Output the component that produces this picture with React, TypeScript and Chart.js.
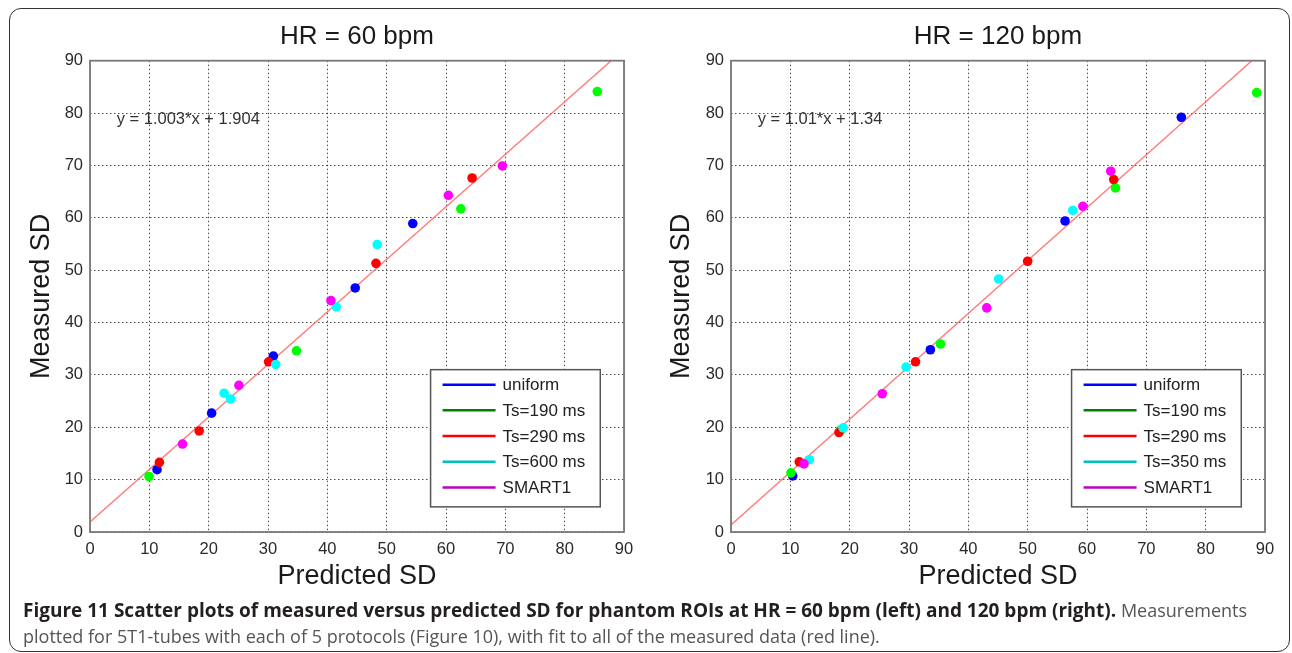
import React, { useEffect, useRef } from "react";
import { Chart, registerables } from "chart.js";

Chart.register(...registerables);

// ---------- data ----------
const axisTicks = [0, 10, 20, 30, 40, 50, 60, 70, 80, 90];

const protocols60 = ["uniform", "Ts=190 ms", "Ts=290 ms", "Ts=600 ms", "SMART1"];
const protocols120 = ["uniform", "Ts=190 ms", "Ts=290 ms", "Ts=350 ms", "SMART1"];

const markerColors = ["#0000ff", "#00ff00", "#ff0000", "#00ffff", "#ff00ff"];
const legendColors = ["#0000ff", "#008000", "#ff0000", "#00bfbf", "#bf00bf"];

// HR = 60 bpm : predicted SD (x) and measured SD (y)
const uniform60Pred = [11.3, 20.5, 30.9, 44.7, 54.4];
const uniform60Meas = [11.9, 22.7, 33.6, 46.6, 58.9];
const ts190at60Pred = [9.95, 34.8, 62.5, 85.5];
const ts190at60Meas = [10.6, 34.6, 61.7, 84.1];
const ts290at60Pred = [11.7, 18.4, 30.1, 48.2, 64.4];
const ts290at60Meas = [13.3, 19.3, 32.5, 51.3, 67.6];
const ts600at60Pred = [22.6, 23.7, 31.3, 41.5, 48.4];
const ts600at60Meas = [26.5, 25.4, 32.0, 43.0, 54.9];
const smart60Pred = [15.6, 25.1, 40.6, 60.4, 69.5];
const smart60Meas = [16.8, 28.0, 44.2, 64.3, 69.9];
const fit60Slope = 1.003;
const fit60Intercept = 1.904;

// HR = 120 bpm
const uniform120Pred = [10.4, 33.6, 56.3, 75.9];
const uniform120Meas = [10.7, 34.8, 59.4, 79.2];
const ts190at120Pred = [10.1, 18.5, 35.3, 64.8, 88.6];
const ts190at120Meas = [11.3, 19.5, 35.9, 65.7, 83.9];
const ts290at120Pred = [11.5, 18.2, 31.1, 50.0, 64.5];
const ts290at120Meas = [13.4, 19.0, 32.5, 51.7, 67.3];
const ts350at120Pred = [13.2, 18.9, 29.5, 45.1, 57.6];
const ts350at120Meas = [13.8, 19.9, 31.5, 48.3, 61.4];
const smart120Pred = [12.3, 25.5, 43.1, 59.3, 64.0];
const smart120Meas = [13.0, 26.4, 42.8, 62.2, 68.9];
const fit120Slope = 1.01;
const fit120Intercept = 1.34;

// ---------- chart ----------
const FONT = "'Liberation Sans', Arial, Helvetica, sans-serif";
const CANVAS_H = 600;

type PanelProps = {
  title: string;
  equation: string;
  slope: number;
  intercept: number;
  names: string[];
  xs: number[][];
  ys: number[][];
  left: number;
  width: number;
  yAxisWidth: number;
  padRight: number;
};

function ScatterPanel(p: PanelProps) {
  const ref = useRef<HTMLCanvasElement>(null);

  useEffect(() => {
    if (!ref.current) return;
    const datasets: any[] = p.names.map((n, i) => ({
      label: n,
      data: p.xs[i].map((v, k) => ({ x: v, y: p.ys[i][k] })),
      backgroundColor: markerColors[i],
      borderColor: markerColors[i],
      pointRadius: 4.8,
      pointBorderWidth: 0,
      showLine: false,
      order: 5 - i,
    }));
    datasets.push({
      label: "fit",
      data: [
        { x: 0, y: p.intercept },
        { x: 90, y: p.slope * 90 + p.intercept },
      ],
      showLine: true,
      borderColor: "rgba(255,110,110,0.9)",
      borderWidth: 1.4,
      pointRadius: 0,
      order: 10,
    });

    const decor = {
      id: "decor",
      afterDraw(chart: any) {
        const { ctx, chartArea: a, scales } = chart;
        const x = scales.x;
        const y = scales.y;
        ctx.save();
        // axes box
        ctx.setLineDash([]);
        ctx.strokeStyle = "#787878";
        ctx.lineWidth = 1.8;
        ctx.strokeRect(a.left, a.top, a.right - a.left, a.bottom - a.top);
        // title
        ctx.fillStyle = "#1a1a1a";
        ctx.font = `26px ${FONT}`;
        ctx.textAlign = "center";
        ctx.textBaseline = "middle";
        ctx.fillText(p.title, (a.left + a.right) / 2, a.top - 24);
        // fit equation
        ctx.font = `16.5px ${FONT}`;
        ctx.fillStyle = "#333";
        ctx.textAlign = "left";
        ctx.fillText(p.equation, x.getPixelForValue(4.5), y.getPixelForValue(78.8));
        // legend
        const lx0 = x.getPixelForValue(57.4);
        const lx1 = x.getPixelForValue(86);
        const ly0 = y.getPixelForValue(31);
        const ly1 = y.getPixelForValue(4.8);
        ctx.fillStyle = "#ffffff";
        ctx.fillRect(lx0, ly0, lx1 - lx0, ly1 - ly0);
        ctx.strokeStyle = "#555";
        ctx.lineWidth = 1.5;
        ctx.strokeRect(lx0, ly0, lx1 - lx0, ly1 - ly0);
        ctx.font = `17px ${FONT}`;
        p.names.forEach((n, i) => {
          const cy = ly0 + 15 + i * 25.7;
          ctx.strokeStyle = legendColors[i];
          ctx.lineWidth = 2.5;
          ctx.beginPath();
          ctx.moveTo(lx0 + 12, cy);
          ctx.lineTo(lx0 + 65, cy);
          ctx.stroke();
          ctx.fillStyle = "#222";
          ctx.fillText(n, lx0 + 72, cy + 1);
        });
        ctx.restore();
      },
    };

    const tickFont = { family: FONT, size: 16.5 };
    const titleFont = { family: FONT, size: 27 };
    const chart = new Chart(ref.current, {
      type: "scatter",
      data: { datasets },
      options: {
        animation: false,
        responsive: false,
        events: [],
        layout: { padding: { left: 0, right: p.padRight, top: 60.7, bottom: 0 } },
        plugins: {
          legend: { display: false },
          tooltip: { enabled: false },
          title: { display: false },
        },
        scales: {
          x: {
            type: "linear",
            min: 0,
            max: 90,
            afterBuildTicks: (s: any) => {
              s.ticks = axisTicks.map((v) => ({ value: v }));
            },
            ticks: { font: tickFont, color: "#2a2a2a", padding: 8, maxRotation: 0, autoSkip: false },
            grid: { color: "#4a4a4a", lineWidth: 1, drawTicks: false },
            border: { display: false, dash: [1.5, 2.5] },
            title: {
              display: true,
              text: "Predicted SD",
              font: titleFont,
              color: "#1a1a1a",
              padding: { top: 0, bottom: 7 },
            },
            afterFit: (s: any) => {
              s.height = CANVAS_H - 532;
            },
          },
          y: {
            type: "linear",
            min: 0,
            max: 90,
            afterBuildTicks: (s: any) => {
              s.ticks = axisTicks.map((v) => ({ value: v }));
            },
            ticks: { font: tickFont, color: "#2a2a2a", padding: 7, autoSkip: false },
            grid: { color: "#4a4a4a", lineWidth: 1, drawTicks: false },
            border: { display: false, dash: [1.5, 2.5] },
            title: {
              display: true,
              text: "Measured SD",
              font: titleFont,
              color: "#1a1a1a",
              padding: { top: 25, bottom: 0 },
            },
            afterFit: (s: any) => {
              s.width = p.yAxisWidth;
            },
          },
        },
      } as any,
      plugins: [decor],
    });
    return () => chart.destroy();
  }, []);

  return (
    <canvas
      ref={ref}
      width={p.width}
      height={CANVAS_H}
      style={{ position: "absolute", left: p.left, top: 0, width: p.width, height: CANVAS_H }}
    />
  );
}

export default function App() {
  return (
    <div
      style={{
        position: "fixed",
        left: 0,
        top: 0,
        width: 1292,
        height: 653,
        background: "#fff",
        overflow: "hidden",
      }}
    >
      <div
        style={{
          position: "absolute",
          left: 9,
          top: 8,
          width: 1279,
          height: 642,
          border: "1.5px solid #333",
          borderRadius: 12,
        }}
      />
      <ScatterPanel
        title="HR = 60 bpm"
        equation="y = 1.003*x + 1.904"
        slope={fit60Slope}
        intercept={fit60Intercept}
        names={protocols60}
        xs={[uniform60Pred, ts190at60Pred, ts290at60Pred, ts600at60Pred, smart60Pred]}
        ys={[uniform60Meas, ts190at60Meas, ts290at60Meas, ts600at60Meas, smart60Meas]}
        left={0}
        width={650}
        yAxisWidth={90}
        padRight={26}
      />
      <ScatterPanel
        title="HR = 120 bpm"
        equation="y = 1.01*x + 1.34"
        slope={fit120Slope}
        intercept={fit120Intercept}
        names={protocols120}
        xs={[uniform120Pred, ts190at120Pred, ts290at120Pred, ts350at120Pred, smart120Pred]}
        ys={[uniform120Meas, ts190at120Meas, ts290at120Meas, ts350at120Meas, smart120Meas]}
        left={640}
        width={652}
        yAxisWidth={91}
        padRight={27}
      />
      <div
        style={{
          position: "absolute",
          left: 23,
          top: 597,
          width: 1265,
          fontFamily: "'Open Sans', 'Noto Sans', sans-serif",
          fontSize: 18,
          lineHeight: "26px",
          color: "#555",
          whiteSpace: "nowrap",
        }}
      >
        <div>
          <span style={{ fontWeight: 700, color: "#231f20", fontSize: 19 }}>
            Figure 11 Scatter plots of measured versus predicted SD for phantom ROIs at HR = 60 bpm (left) and 120 bpm (right).
          </span>{" "}
          Measurements
        </div>
        <div>plotted for 5T1-tubes with each of 5 protocols (Figure 10), with fit to all of the measured data (red line).</div>
      </div>
    </div>
  );
}
